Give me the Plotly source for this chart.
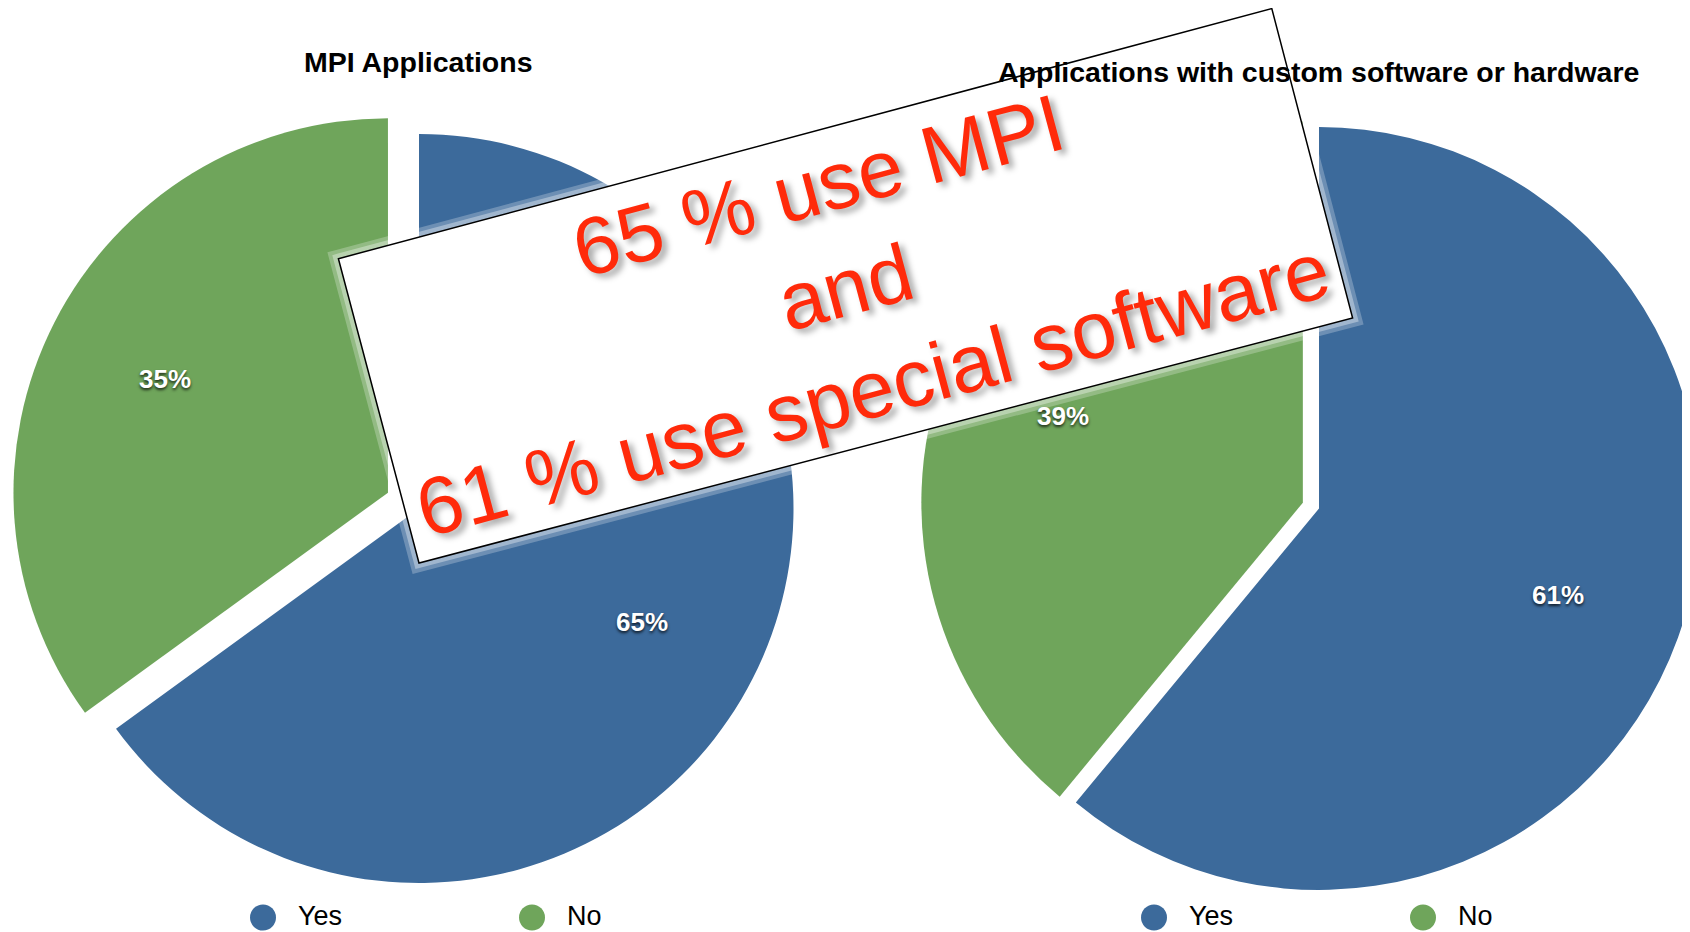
"""Two exploded pie charts (MPI usage / custom software) with a tilted callout box."""

import math

import plotly.graph_objects as go

# the page body keeps its default 8px margin, so the figure is drawn 8px in
# from the top-left corner; make it wider than the window so the right pie
# runs off the edge like in the original slide
OFF = 8
W, H = 1740, 924

# ---- data ----
labels = ["Yes", "No"]
mpi_values = [65, 35]
custom_values = [61, 39]
colors = ["#3c6a9b", "#6fa55b"]
titles = ["MPI Applications", "Applications with custom software or hardware"]
callout_lines = ["65 % use MPI", "and", "61 % use special software"]

FONT = "Liberation Sans, Arial, Helvetica, sans-serif"


def px_x(x):
    """screen pixel -> paper fraction"""
    return (x - OFF) / W


def px_y(y):
    return 1 - (y - OFF) / H


def pie_domain(cx, cy, r, pull):
    """domain that puts a pie of radius r (screen pixels) centred on (cx, cy)"""
    cx -= OFF
    cy_up = H - (cy - OFF)
    half = r * (1 + pull)
    half = min(half, cx, W - cx)
    return dict(
        x=[(cx - half) / W, (cx + half) / W],
        y=[(cy_up - half) / H, (cy_up + half) / H],
    )


def pie_trace(values, domain, pulls):
    return go.Pie(
        labels=labels,
        values=values,
        sort=False,
        direction="clockwise",
        rotation=0,
        pull=pulls,
        domain=domain,
        marker=dict(colors=colors, line=dict(width=0)),
        textinfo="none",
        showlegend=False,
        hoverinfo="label+percent",
    )


def slice_labels(values, cx, cy, r, pulls):
    """percent labels sitting at 2/3 of the radius, keynote style"""
    out = []
    total = sum(values)
    start = 0.0
    for v, pull in zip(values, pulls):
        frac = v / total
        mid = (start + frac / 2) * 2 * math.pi  # clockwise from 12 o'clock
        dist = (pull + 0.667) * r
        out.append(dict(
            text=f"<b>{frac * 100:.0f}%</b>",
            x=px_x(cx + dist * math.sin(mid)), y=px_y(cy - dist * math.cos(mid)),
            xref="paper", yref="paper", showarrow=False,
            xanchor="center", yanchor="middle",
            font=dict(family=FONT, size=26, color="white",
                      shadow="0px 2px 3px rgba(0,0,0,0.75)"),
        ))
        start += frac
    return out


pies = [
    (mpi_values, 419, 508.5, 374.5, [0, 0.093]),
    (custom_values, 1319, 508.5, 381.5, [0, 0.045]),
]

fig = go.Figure()
annotations = []
for values, cx, cy, r, pulls in pies:
    fig.add_trace(pie_trace(values, pie_domain(cx, cy, r, max(pulls)), pulls))
    annotations += slice_labels(values, cx, cy, r, pulls)

# ---- titles ----
annotations += [
    dict(
        text=f"<b>{titles[0]}</b>", x=px_x(418), y=px_y(62), xref="paper", yref="paper",
        showarrow=False, xanchor="center", yanchor="middle",
        font=dict(family=FONT, size=28.5, color="black"),
    ),
    dict(
        text=f"<b>{titles[1]}</b>", x=px_x(1318), y=px_y(72), xref="paper", yref="paper",
        showarrow=False, xanchor="center", yanchor="middle",
        font=dict(family=FONT, size=28.5, color="black"),
    ),
]

# ---- hand-made legends with round swatches ----
shapes = []
LEG_Y = 917.5
for x0 in (263, 1154):
    for i, (lab, col) in enumerate(zip(labels, colors)):
        cx = x0 + i * 269
        shapes.append(dict(
            type="circle", xref="paper", yref="paper",
            x0=px_x(cx - 13), x1=px_x(cx + 13), y0=px_y(LEG_Y + 13), y1=px_y(LEG_Y - 13),
            fillcolor=col, line=dict(width=0),
        ))
        annotations.append(dict(
            text=lab, x=px_x(cx + 33), y=px_y(916), xref="paper", yref="paper",
            showarrow=False, xanchor="left", yanchor="middle",
            font=dict(family=FONT, size=27, color="black"),
        ))

# ---- tilted callout box ----
corners = [(338.4, 258.7), (1271.8, 8.6), (1352.6, 318.0), (419.0, 563.0)]
box_path = "M " + " L ".join(f"{px_x(x):.5f},{px_y(y):.5f}" for x, y in corners) + " Z"
for width, alpha in ((18, 0.25), (10, 0.35)):
    shapes.append(dict(
        type="path", path=box_path, xref="paper", yref="paper",
        fillcolor="rgba(0,0,0,0)", line=dict(color=f"rgba(255,255,255,{alpha})", width=width),
    ))
shapes.append(dict(
    type="path", path=box_path, xref="paper", yref="paper",
    fillcolor="white", line=dict(color="black", width=1.5),
))
annotations.append(dict(
    text="<br>".join(callout_lines), x=px_x(845.5), y=px_y(287), xref="paper", yref="paper",
    showarrow=False, xanchor="center", yanchor="middle", textangle=-15, align="center",
    font=dict(family=FONT, size=81, color="#ff2a0a", shadow="4px 5px 6px rgba(0,0,0,0.35)"),
))

fig.update_layout(
    width=W,
    height=H,
    margin=dict(l=0, r=0, t=0, b=0),
    paper_bgcolor="white",
    plot_bgcolor="white",
    shapes=shapes,
    annotations=annotations,
    font=dict(family=FONT),
)

fig.write_html("out.html")
